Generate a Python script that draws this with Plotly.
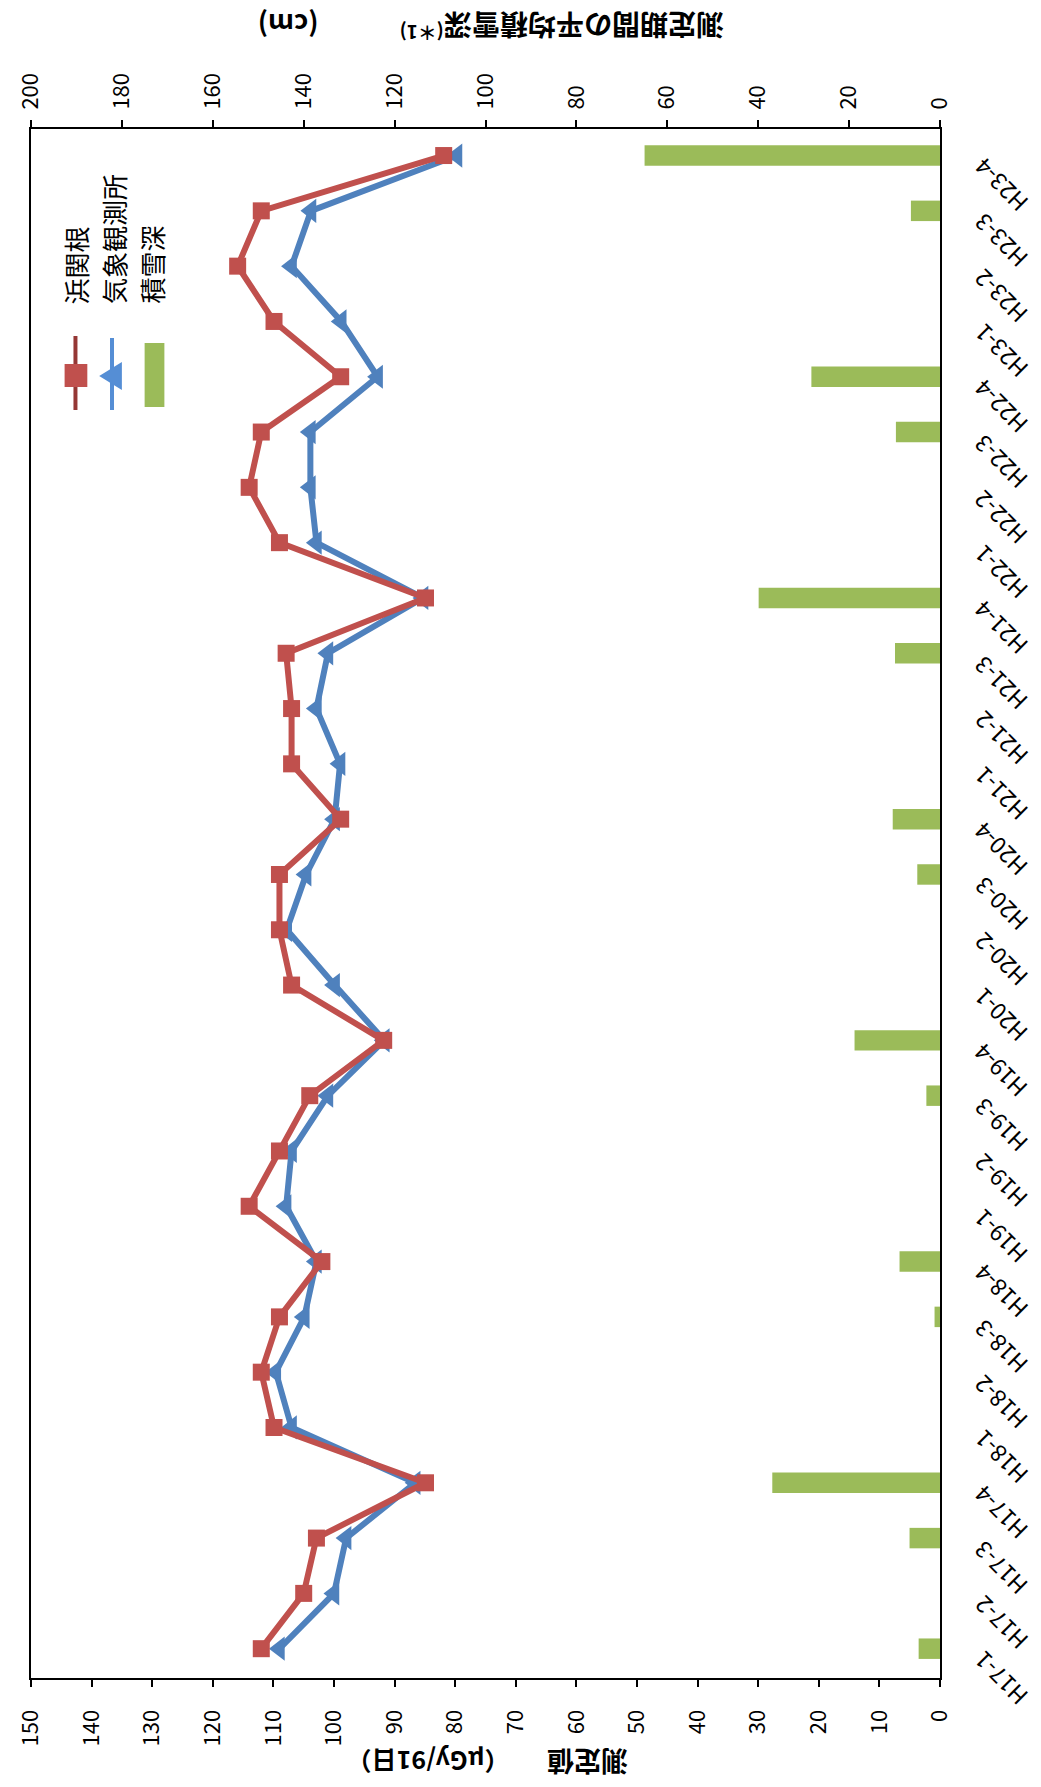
import plotly.graph_objects as go

# ---------------- data ----------------
categories = ["H17-1", "H17-2", "H17-3", "H17-4",
              "H18-1", "H18-2", "H18-3", "H18-4",
              "H19-1", "H19-2", "H19-3", "H19-4",
              "H20-1", "H20-2", "H20-3", "H20-4",
              "H21-1", "H21-2", "H21-3", "H21-4",
              "H22-1", "H22-2", "H22-3", "H22-4",
              "H23-1", "H23-2", "H23-3", "H23-4"]

hamasekine = [112.0, 105.0, 102.9, 84.9,
              109.9, 112.0, 109.0, 102.0,
              114.0, 109.0, 104.0, 91.8,
              107.0, 109.0, 109.0, 98.9,
              107.0, 107.0, 107.9, 84.9,
              109.0, 114.0, 112.0, 98.9,
              109.9, 115.9, 112.0, 81.9]

kishou = [109.0, 100.0, 98.0, 86.6,
          107.0, 109.6, 104.9, 102.9,
          107.9, 107.0, 101.0, 91.7,
          99.9, 107.8, 104.6, 99.9,
          99.0, 102.9, 101.0, 85.3,
          102.9, 103.9, 103.9, 92.8,
          98.8, 107.0, 103.8, 79.7]

snow = [4.7, 0, 6.7, 36.9,
        0, 0, 1.2, 8.9,
        0, 0, 3.0, 18.8,
        0, 0, 5.0, 10.4,
        0, 0, 9.9, 39.9,
        0, 0, 9.7, 28.3,
        0, 0, 6.4, 65.0]

value_ticks = list(range(0, 151, 10))
snow_ticks = list(range(0, 201, 20))

series_names = ["浜関根", "気象観測所", "積雪深"]
left_title = ("<b><span style='font-size:27px'>測定値</span>　　"
              "（μGy/91日）</b>")
right_title = ("<b><span style='font-size:28px'>測定期間の平均積雪深</span>"
               "<sup>(＊1)</sup>　　　(cm)</b>")

# ---------------- layout geometry (pixels) ----------------
W_FIG, H_FIG = 1041, 1787
L, R, T, B = 20, 940, 129, 1678
PW, PH = R - L, B - T

def px_x(px):
    return (px - L) / PW

def px_y(py):
    return (B - py) / PH

RED = "#C0504D"
BLUE = "#4F81BD"
GREEN = "#9BBB59"
FONT = "Noto Sans CJK JP"

fig = go.Figure()

fig.add_trace(go.Bar(
    x=snow, y=categories, orientation="h", xaxis="x2", yaxis="y",
    marker=dict(color=GREEN, line=dict(width=0)), width=0.37,
    name=series_names[2], showlegend=False))

fig.add_trace(go.Scatter(
    x=kishou, y=categories, mode="lines+markers", xaxis="x", yaxis="y",
    line=dict(color=BLUE, width=6),
    marker=dict(symbol="triangle-left", size=21, color=BLUE),
    name=series_names[1], showlegend=False))

fig.add_trace(go.Scatter(
    x=hamasekine, y=categories, mode="lines+markers", xaxis="x", yaxis="y",
    line=dict(color=RED, width=6),
    marker=dict(symbol="square", size=17, color=RED),
    name=series_names[0], showlegend=False))

annotations = []
# category labels (rotated, upside-down diagonal)
for c in categories:
    annotations.append(dict(
        x=px_x(963), xref="paper", y=c, yref="y",
        text=c, showarrow=False, textangle=-135,
        xanchor="left", yanchor="top", yshift=7,
        font=dict(family=FONT, size=23, color="black")))

# axis titles (upside down)
annotations.append(dict(
    x=px_x(482), y=px_y(1763), xref="paper", yref="paper",
    text=left_title, showarrow=False, textangle=180,
    xanchor="center", yanchor="middle",
    font=dict(family=FONT, size=25, color="black")))
annotations.append(dict(
    x=px_x(485), y=px_y(27), xref="paper", yref="paper",
    text=right_title, showarrow=False, textangle=180,
    xanchor="center", yanchor="middle",
    font=dict(family=FONT, size=27, color="black")))

# legend text (rotated)
legend_cols = [65, 103, 141]
for name, cx in zip(series_names, legend_cols):
    annotations.append(dict(
        x=px_x(cx), y=px_y(306), xref="paper", yref="paper",
        text=name, showarrow=False, textangle=-90,
        xanchor="center", yanchor="bottom",
        font=dict(family=FONT, size=26, color="black")))

shapes = []
# legend: red line + square
shapes.append(dict(type="line", xref="paper", yref="paper",
                   x0=px_x(65), x1=px_x(65), y0=px_y(336), y1=px_y(410),
                   line=dict(color="#953735", width=4)))
shapes.append(dict(type="rect", xref="paper", yref="paper",
                   x0=px_x(54), x1=px_x(77), y0=px_y(364), y1=px_y(387),
                   fillcolor=RED, line=dict(width=0)))
# legend: blue line + triangle
shapes.append(dict(type="line", xref="paper", yref="paper",
                   x0=px_x(102), x1=px_x(102), y0=px_y(338), y1=px_y(410),
                   line=dict(color="#558ED5", width=4)))
tri = "M {},{} L {},{} L {},{} Z".format(
    px_x(89), px_y(376), px_x(112), px_y(362), px_x(112), px_y(390))
shapes.append(dict(type="path", xref="paper", yref="paper", path=tri,
                   fillcolor="#558ED5", line=dict(width=0)))
# legend: green rect
shapes.append(dict(type="rect", xref="paper", yref="paper",
                   x0=px_x(135), x1=px_x(155), y0=px_y(343), y1=px_y(407),
                   fillcolor=GREEN, line=dict(width=0)))

fig.update_layout(
    width=W_FIG, height=H_FIG,
    margin=dict(l=L, r=W_FIG - R, t=T, b=H_FIG - B, pad=0),
    paper_bgcolor="white", plot_bgcolor="white",
    font=dict(family=FONT, size=20, color="black"),
    showlegend=False,
    xaxis=dict(
        range=[150, 0], tickvals=value_ticks, side="bottom",
        showgrid=False, zeroline=False,
        showline=True, linecolor="black", linewidth=2,
        ticks="outside", ticklen=7, tickwidth=2, tickcolor="black",
        tickangle=-90, ticklabelstandoff=14,
        tickfont=dict(family=FONT, size=22, color="black")),
    xaxis2=dict(
        range=[200, 0], tickvals=snow_ticks, side="top", overlaying="x",
        anchor="y", showgrid=False, zeroline=False,
        showline=True, linecolor="black", linewidth=2,
        ticks="outside", ticklen=7, tickwidth=2, tickcolor="black",
        tickangle=-90, ticklabelstandoff=6,
        tickfont=dict(family=FONT, size=22, color="black")),
    yaxis=dict(
        type="category", categoryorder="array", categoryarray=categories,
        range=[-0.53, 27.48], side="right",
        showgrid=False, zeroline=False,
        showline=True, mirror=True, linecolor="black", linewidth=2,
        ticks="", showticklabels=False),
    annotations=annotations,
    shapes=shapes,
)

fig.write_html(
    "out.html",
    config={"displayModeBar": False},
    post_script="document.body.style.margin='0';"
                "document.body.style.overflow='hidden';")
